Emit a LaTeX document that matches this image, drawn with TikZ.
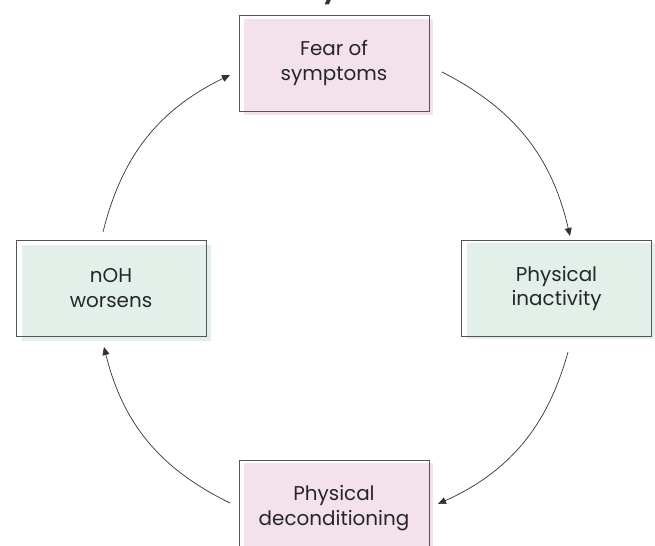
\documentclass[tikz,border=0pt]{standalone}
\usepackage{fontspec}
\setmainfont{Poppins}
\usetikzlibrary{arrows.meta}
\definecolor{pinkfill}{RGB}{243,225,236}
\definecolor{greenfill}{RGB}{227,240,234}
\definecolor{boxline}{RGB}{85,85,85}
\definecolor{arrowline}{RGB}{50,50,50}
\tikzset{
  boxbg/.style={draw=none, minimum width=189bp, minimum height=96bp, inner sep=0pt, outer sep=0pt},
  pinkbg/.style={boxbg, fill=pinkfill},
  greenbg/.style={boxbg, fill=greenfill},
  box/.style={draw=boxline, line width=0.9bp, minimum width=190bp, minimum height=96bp, inner sep=0pt, outer sep=0pt,
    align=center, font=\fontsize{20}{24.5}\selectfont, text=black!85},
  cyc/.style={draw=arrowline, line width=0.7bp, -{Triangle[length=8bp,width=7bp]}, bend left=25},
  titlefrag/.style={font=\fontsize{24}{28}\selectfont\bfseries, text=black!80, anchor=base}
}
\begin{document}
\begin{tikzpicture}[x=1bp,y=1bp]
\useasboundingbox (0,0) rectangle (655,-546);
\clip (0,0) rectangle (655,-546);
% title fragment
\node[titlefrag] (title) at (330,1) {y};
% box backgrounds
\node[pinkbg] (fearbg) at (338.5,-67.5) {};
\node[greenbg] (inactbg) at (561.5,-291) {};
\node[pinkbg] (decondbg) at (338.5,-510.5) {};
\node[greenbg] (nohbg) at (116.5,-293) {};
% boxes
\node[box] (fear) at (334,-63) {Fear of\\symptoms};
\node[box] (inact) at (556.5,-288.5) {Physical\\inactivity};
\node[box] (decond) at (334,-508) {Physical\\deconditioning};
\node[box] (noh) at (111,-288) {nOH\\worsens};
% connector ends
\coordinate (c1s) at (442,-72);
\coordinate (c1e) at (570,-236);
\coordinate (c2s) at (568,-352);
\coordinate (c2e) at (438,-504);
\coordinate (c3s) at (230,-503);
\coordinate (c3e) at (104,-347);
\coordinate (c4s) at (103,-232);
\coordinate (c4e) at (230,-75);
\draw[cyc] (c1s) to (c1e);
\draw[cyc] (c2s) to (c2e);
\draw[cyc] (c3s) to (c3e);
\draw[cyc] (c4s) to (c4e);
\end{tikzpicture}
\end{document}
